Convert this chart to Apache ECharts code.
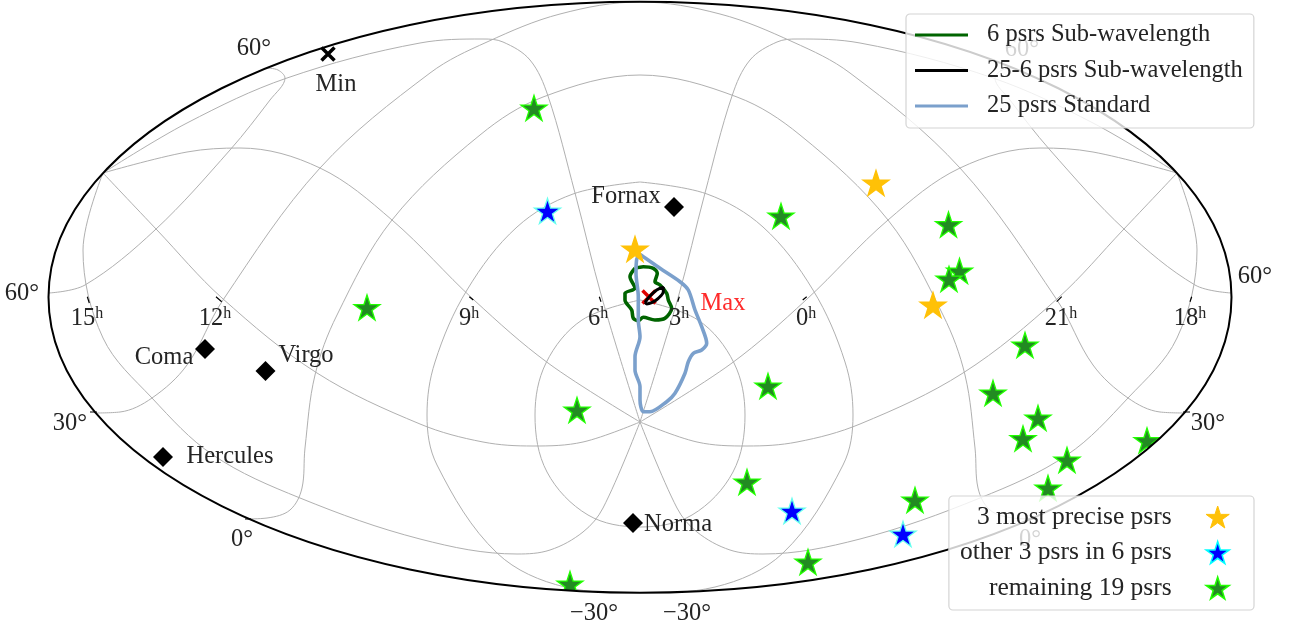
<!DOCTYPE html>
<html>
<head>
<meta charset="utf-8">
<style>html,body{margin:0;padding:0;background:#fff}#graph{width:1290px;height:630px}</style>
<script src="https://cdn.jsdelivr.net/npm/echarts@6/dist/echarts.min.js"></script>
</head>
<body>
<div id="graph"></div>
<script>
"use strict"

// everything below is in the projected plane of the sky map
const frameCenter = [640, 297.2], frameRadii = [591.5, 295.5];

const meridians = {
    h3: [[640,422],[678,298],[705,193],[732,96],[750,60],[777,42],[797,39],[860,43],[993,78],[1093,123],[1177,173]],
    h6: [[640,422],[602,298],[575,193],[548,96],[530,60],[503,42],[483,39],[420,43],[287,78],[187,123],[103,173]],
    h0: [[640,422],[732,363],[806,300],[888,220],[960,168],[1040,148],[1093,152],[1177,173]],
    h9: [[640,422],[548,363],[474,300],[392,220],[320,168],[240,148],[187,152],[103,173]],
    h21: [[640,422],[697,442],[747,446],[797,442],[860,424],[963,373],[1058,298],[1123,230],[1177,173]],
    h12: [[640,422],[583,442],[533,446],[483,442],[420,424],[317,373],[222,298],[157,230],[103,173]],
    h18: [[640,422],[677,508],[697,532],[730,550],[763,554],[860,539],[980,498],[1067,455],[1128,398],[1177,338],[1197,250],[1177,173]],
    h15: [[640,422],[603,508],[583,532],[550,550],[517,554],[420,539],[300,498],[213,455],[152,398],[103,338],[83,250],[103,173]]
};
const parallels = {
    m60: [[640,300],[698,320],[734,363],[745,415],[733,472],[692,515],[640,527],[588,515],[547,472],[535,415],[546,363],[582,320],[640,300]],
    m30: [[640,182],[707,194],[763,227],[813,290],[845,362],[853,415],[843,465],[783,553],[715,587],[640,593],[565,587],[497,553],[437,465],[427,415],[435,362],[467,290],[517,227],[573,194],[640,182]],
    p0: [[246,519],[267,518],[290,510],[302,488],[305,448],[315,375],[337,315],[392,220],[480,135],[543,97],[640,75],[737,97],[800,135],[888,220],[943,315],[965,375],[975,448],[978,488],[990,510],[1013,518],[1034,519]],
    p30: [[95,413],[120,412],[152,398],[187,365],[223,300],[320,168],[430,73],[487,42],[560,14],[640,2],[720,14],[793,42],[850,73],[960,168],[1057,300],[1093,365],[1128,398],[1160,412],[1185,413]],
    p60l: [[49,293],[85,285],[155,230],[230,150],[270,100],[285,78],[278,70],[266,68]],
    p60r: [[1231,293],[1195,285],[1125,230],[1050,150],[1010,100],[995,78],[1002,70],[1014,68]]
};
// short black ticks where the axis labels sit
const tickSegments = [
    [[87.3,296.7],[89.3,303]], [[216,296.7],[221.7,301.7]], [[469.3,296.7],[473.3,300]], [[599.3,296.7],[601,301.7]],
    [[679.3,296.7],[677.7,301.7]], [[806.7,296.7],[802.7,300]], [[1061.7,296.7],[1056.7,301.7]], [[1191.7,296.7],[1190,301.7]],
    [[90,412],[97,412]], [[1190,412],[1183,412]], [[245,519],[251,519]], [[1034,519],[1028,519]]
];

const contour6 = [[635,268.3],[643.3,266.7],[653.3,268.3],[657.3,273.3],[655,281.7],[660,285],[666.7,293.3],[668.3,300],[671.7,308.3],[665,318.3],[655,320],[643.3,317.3],[638.3,320.7],[633.3,318.3],[631.7,310],[625,300],[625,293.3],[635,288.3],[630,276.7],[635,268.3]];
const contour25sub = [[645,302.3],[650,296],[656.7,290],[663.3,287.3],[663.3,291.7],[658.3,298.3],[651.7,302.7],[646.7,304],[645,302.3]];
const contour25 = [[639.3,254],[643.3,256.7],[660,268.3],[680,281.7],[688.3,290],[695,310],[701.7,326.7],[706.7,343.3],[701.7,350],[693.3,353.3],[688.3,361.7],[685,373.3],[675,393.3],[666.7,401.7],[650,411.7],[643.3,411.7],[640,400],[640,386.7],[635,370],[635,356.7],[640,336.7],[638.3,320],[638.3,296.7],[636,273.3],[636.7,259.3],[639.3,254]];

const precisePsrs = [[635,249],[876,183],[933,305]];
const otherPsrs = [[547.5,211],[792,511],[903,534]];
const remainingPsrs = [[534,108],[781,216],[948.5,224.5],[959.5,271],[949,279],[367,307.5],[1025,345],[993,393],[768,386],[1038,418],[1023,438.5],[577,410],[1147,440.5],[1067,460],[1048,488],[747,482],[915,500],[808,562],[570,584]];

const clusters = [[674,207],[205,349],[265.5,371],[163,457],[633,523]];
const maxPoint = [[649,297]], minPoint = [[328,54]];

const textLabels = [
    ["Min",336,83], ["Fornax",626,195], ["Coma",164,356], ["Virgo",306,354], ["Hercules",230,455], ["Norma",678,523],
    ["60°",254,47], ["60°",22,292], ["60°",1255,275], ["60°",1022,48], ["30°",70,422], ["30°",1208,422],
    ["0°",242,538], ["0°",1030,538], ["−30°",594,612], ["−30°",687,612]
];
const hourLabels = [["15",87,317],["12",215,317],["9",469,317],["6",598,317],["3",679,317],["0",806,317],["21",1061,317],["18",1190,317]];
const lineNames = ["6 psrs Sub-wavelength", "25-6 psrs Sub-wavelength", "25 psrs Standard"];
const starNames = ["3 most precise psrs", "other 3 psrs in 6 psrs", "remaining 19 psrs"];

const FONT = "Liberation Serif", TEXT = "#242424", GRIDC = "#b0b0b0";
const GOLD = "#ffc107", GREEN6 = "#006400", STEEL = "#7ba0cc";
const STAR = "path://M50 0L61.2 34.5L97.6 34.5L68.2 55.9L79.4 90.5L50 69.1L20.6 90.5L31.8 55.9L2.4 34.5L38.8 34.5Z";
const CROSS = "path://M0 0L100 100M100 0L0 100";

const gridSeries = Object.values(meridians).concat(Object.values(parallels)).map(pts => ({
    type: "line", data: pts, smooth: 0.35, symbol: "none", z: 1, silent: true,
    lineStyle: { color: GRIDC, width: 1 }
}));
const contourSeries = (name, pts, color, width, z) => ({
    type: "line", name, data: pts, smooth: 0.3, symbol: "none", z, silent: true,
    lineStyle: { color, width }, itemStyle: { color }
});
const starSeries = (name, pts, color, edge) => ({
    type: "scatter", name, data: pts, symbol: STAR, symbolSize: [26, 25], z: 4, silent: true,
    itemStyle: { color, borderColor: edge, borderWidth: 1.3, opacity: 1 }
});
const tickData = [];
tickSegments.forEach(s => tickData.push(s[0], s[1], [null, null]));

const option = {
    animation: false,
    backgroundColor: "#fff",
    grid: { left: 0, right: 0, top: 0, bottom: 0 },
    xAxis: { type: "value", min: 0, max: 1290, show: false },
    yAxis: { type: "value", min: 0, max: 630, inverse: true, show: false },
    legend: [
        {
            data: [
                { name: lineNames[0], icon: "rect", itemStyle: { color: GREEN6 } },
                { name: lineNames[1], icon: "rect", itemStyle: { color: "#000" } },
                { name: lineNames[2], icon: "rect", itemStyle: { color: STEEL } }
            ],
            left: 906, top: 14, orient: "vertical", selectedMode: false, z: 20,
            padding: [7, 11, 8, 9], itemGap: 7.5, itemWidth: 53, itemHeight: 3,
            backgroundColor: "rgba(255,255,255,0.8)", borderColor: "#d4d4d4", borderWidth: 1.2, borderRadius: 4,
            textStyle: { fontFamily: FONT, fontSize: 24.5, color: TEXT, lineHeight: 28, padding: [0, 0, 0, 14] }
        },
        {
            data: [
                { name: starNames[0], icon: STAR, itemStyle: { color: GOLD, borderColor: GOLD, borderWidth: 1 } },
                { name: starNames[1], icon: STAR, itemStyle: { color: "#0000ff", borderColor: "#00ffff", borderWidth: 1.5 } },
                { name: starNames[2], icon: STAR, itemStyle: { color: "#228b22", borderColor: "#22ff00", borderWidth: 1.5 } }
            ],
            right: 36, top: 496, orient: "vertical", align: "right", selectedMode: false, z: 20,
            padding: [7, 24, 8, 11], itemGap: 7.5, itemWidth: 70, itemHeight: 22,
            backgroundColor: "rgba(255,255,255,0.8)", borderColor: "#d4d4d4", borderWidth: 1.2, borderRadius: 4,
            textStyle: { fontFamily: FONT, fontSize: 25.5, color: TEXT, lineHeight: 28, padding: [0, 6, 0, 0] }
        }
    ],
    series: [
        ...gridSeries,
        contourSeries(lineNames[0], contour6, GREEN6, 3.6, 2),
        contourSeries(lineNames[2], contour25, STEEL, 3.6, 3),
        contourSeries(lineNames[1], contour25sub, "#000000", 3, 3),
        {
            type: "scatter", data: maxPoint, symbol: CROSS, symbolSize: 13, z: 2, silent: true,
            itemStyle: { color: "transparent", borderColor: "#e00000", borderWidth: 3.5, opacity: 1 }
        },
        starSeries(starNames[2], remainingPsrs, "#228b22", "#22ff00"),
        starSeries(starNames[1], otherPsrs, "#0000ff", "#66ffee"),
        starSeries(starNames[0], precisePsrs, GOLD, GOLD),
        {
            // white outside the ellipse, the stars on the rim get cut here
            type: "custom", data: [frameCenter], z: 6, silent: true, clip: false,
            renderItem: (params, api) => {
                const c = api.coord(frameCenter), r = api.size(frameRadii);
                const tl = api.coord([0, 0]), br = api.coord([1290, 630]);
                return {
                    type: "group",
                    children: [
                        {
                            type: "path",
                            shape: { pathData: `M${tl[0]} ${tl[1]}H${br[0]}V${br[1]}H${tl[0]}Z M${c[0]-r[0]} ${c[1]}A${r[0]} ${r[1]} 0 1 0 ${c[0]+r[0]} ${c[1]}A${r[0]} ${r[1]} 0 1 0 ${c[0]-r[0]} ${c[1]}Z` },
                            style: { fill: "#fff", stroke: null }
                        },
                        {
                            type: "ellipse",
                            shape: { cx: c[0], cy: c[1], rx: r[0], ry: r[1] },
                            style: { fill: null, stroke: "#000", lineWidth: 2 }
                        }
                    ]
                };
            }
        },
        {
            type: "line", data: tickData, symbol: "none", z: 7, silent: true, connectNulls: false,
            lineStyle: { color: "#000", width: 1.2 }
        },
        {
            type: "scatter", data: clusters, symbol: "diamond", symbolSize: 20, z: 8, silent: true,
            itemStyle: { color: "#000", opacity: 1 }
        },
        {
            type: "scatter", data: minPoint, symbol: CROSS, symbolSize: 13, z: 8, silent: true,
            itemStyle: { color: "transparent", borderColor: "#000", borderWidth: 3.5, opacity: 1 }
        },
        {
            type: "scatter", z: 9, silent: true, symbolSize: 0,
            data: textLabels.map(t => ({ name: t[0], value: [t[1], t[2]] })),
            itemStyle: { color: "transparent", opacity: 1 },
            label: { show: true, position: "inside", offset: [0, 2], formatter: "{b}", fontFamily: FONT, fontSize: 24.5, color: TEXT, align: "center", verticalAlign: "middle" }
        },
        {
            type: "scatter", z: 9, silent: true, symbolSize: 0,
            data: [{ name: "Max", value: [723, 302] }],
            itemStyle: { color: "transparent", opacity: 1 },
            label: { show: true, position: "inside", offset: [0, 2], formatter: "{b}", fontFamily: FONT, fontSize: 24.5, color: "#ff2a2a", align: "center", verticalAlign: "middle" }
        },
        {
            type: "scatter", z: 9, silent: true, symbolSize: 0,
            data: hourLabels.map(t => ({ name: t[0], value: [t[1], t[2]] })),
            itemStyle: { color: "transparent", opacity: 1 },
            label: {
                show: true, position: "inside", offset: [0, 2], formatter: p => `{a|${p.name}}{s|h}`, align: "center", verticalAlign: "middle",
                rich: {
                    a: { fontFamily: FONT, fontSize: 24.5, color: TEXT, lineHeight: 26 },
                    s: { fontFamily: FONT, fontSize: 16, color: TEXT, verticalAlign: "top", lineHeight: 16 }
                }
            }
        }
    ]
};

const myChart = echarts.init(document.getElementById("graph"), null, { renderer: "canvas" });
myChart.setOption(option);
</script>
</body>
</html>
